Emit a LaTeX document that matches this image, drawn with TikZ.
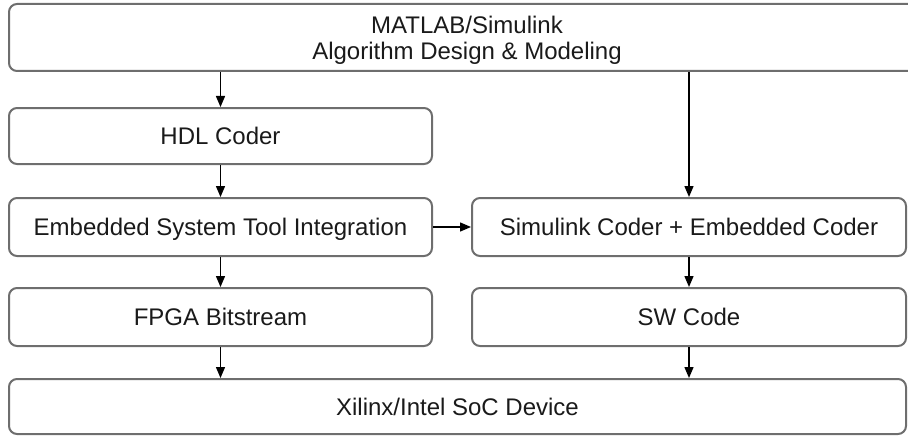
\documentclass[tikz,border=0pt]{standalone}
\usepackage{fontspec}
\setmainfont{Liberation Sans}
\usetikzlibrary{arrows.meta}
\definecolor{boxgray}{HTML}{6E6E6E}
\definecolor{txt}{HTML}{1A1A1A}
\begin{document}
\begin{tikzpicture}[x=1pt,y=-1pt,
  box/.style={draw=boxgray, line width=2pt, rounded corners=8pt, fill=white,
    inner sep=0pt, text=txt, font=\fontsize{24}{26}\selectfont, align=center},
  one/.style={text height=17pt, text depth=0pt},
  arr/.style={draw=black, line width=1.4pt, -{Triangle[length=11pt,width=9pt]}}]
\useasboundingbox (0,0) rectangle (908,436);
\node[box, text depth=0pt, minimum width=916pt, minimum height=67pt] (top) at (467,37.5)
  {MATLAB/Simulink\\Algorithm Design \& Modeling};
\node[box, one, minimum width=423pt, minimum height=56pt] (hdl) at (220.5,136) {HDL Coder};
\node[box, one, minimum width=423pt, minimum height=58pt] (emb) at (220.5,227) {Embedded System Tool Integration};
\node[box, one, minimum width=434pt, minimum height=58pt] (sim) at (689,227) {Simulink Coder + Embedded Coder};
\node[box, one, minimum width=423pt, minimum height=58pt] (fpga) at (220.5,317) {FPGA Bitstream};
\node[box, one, minimum width=434pt, minimum height=58pt] (sw) at (689,317) {SW Code};
\node[box, one, minimum width=897pt, minimum height=55pt] (soc) at (457.5,406.5) {Xilinx/Intel SoC Device};
\draw[arr] (top.south -| hdl.north) -- (hdl.north);
\draw[arr] (hdl.south) -- (emb.north);
\draw[arr] (top.south -| sim.north) -- (sim.north);
\draw[arr] (emb.east) -- (sim.west);
\draw[arr] (emb.south) -- (fpga.north);
\draw[arr] (sim.south) -- (sw.north);
\draw[arr] (fpga.south) -- (fpga.south |- soc.north);
\draw[arr] (sw.south) -- (sw.south |- soc.north);
\end{tikzpicture}
\end{document}
